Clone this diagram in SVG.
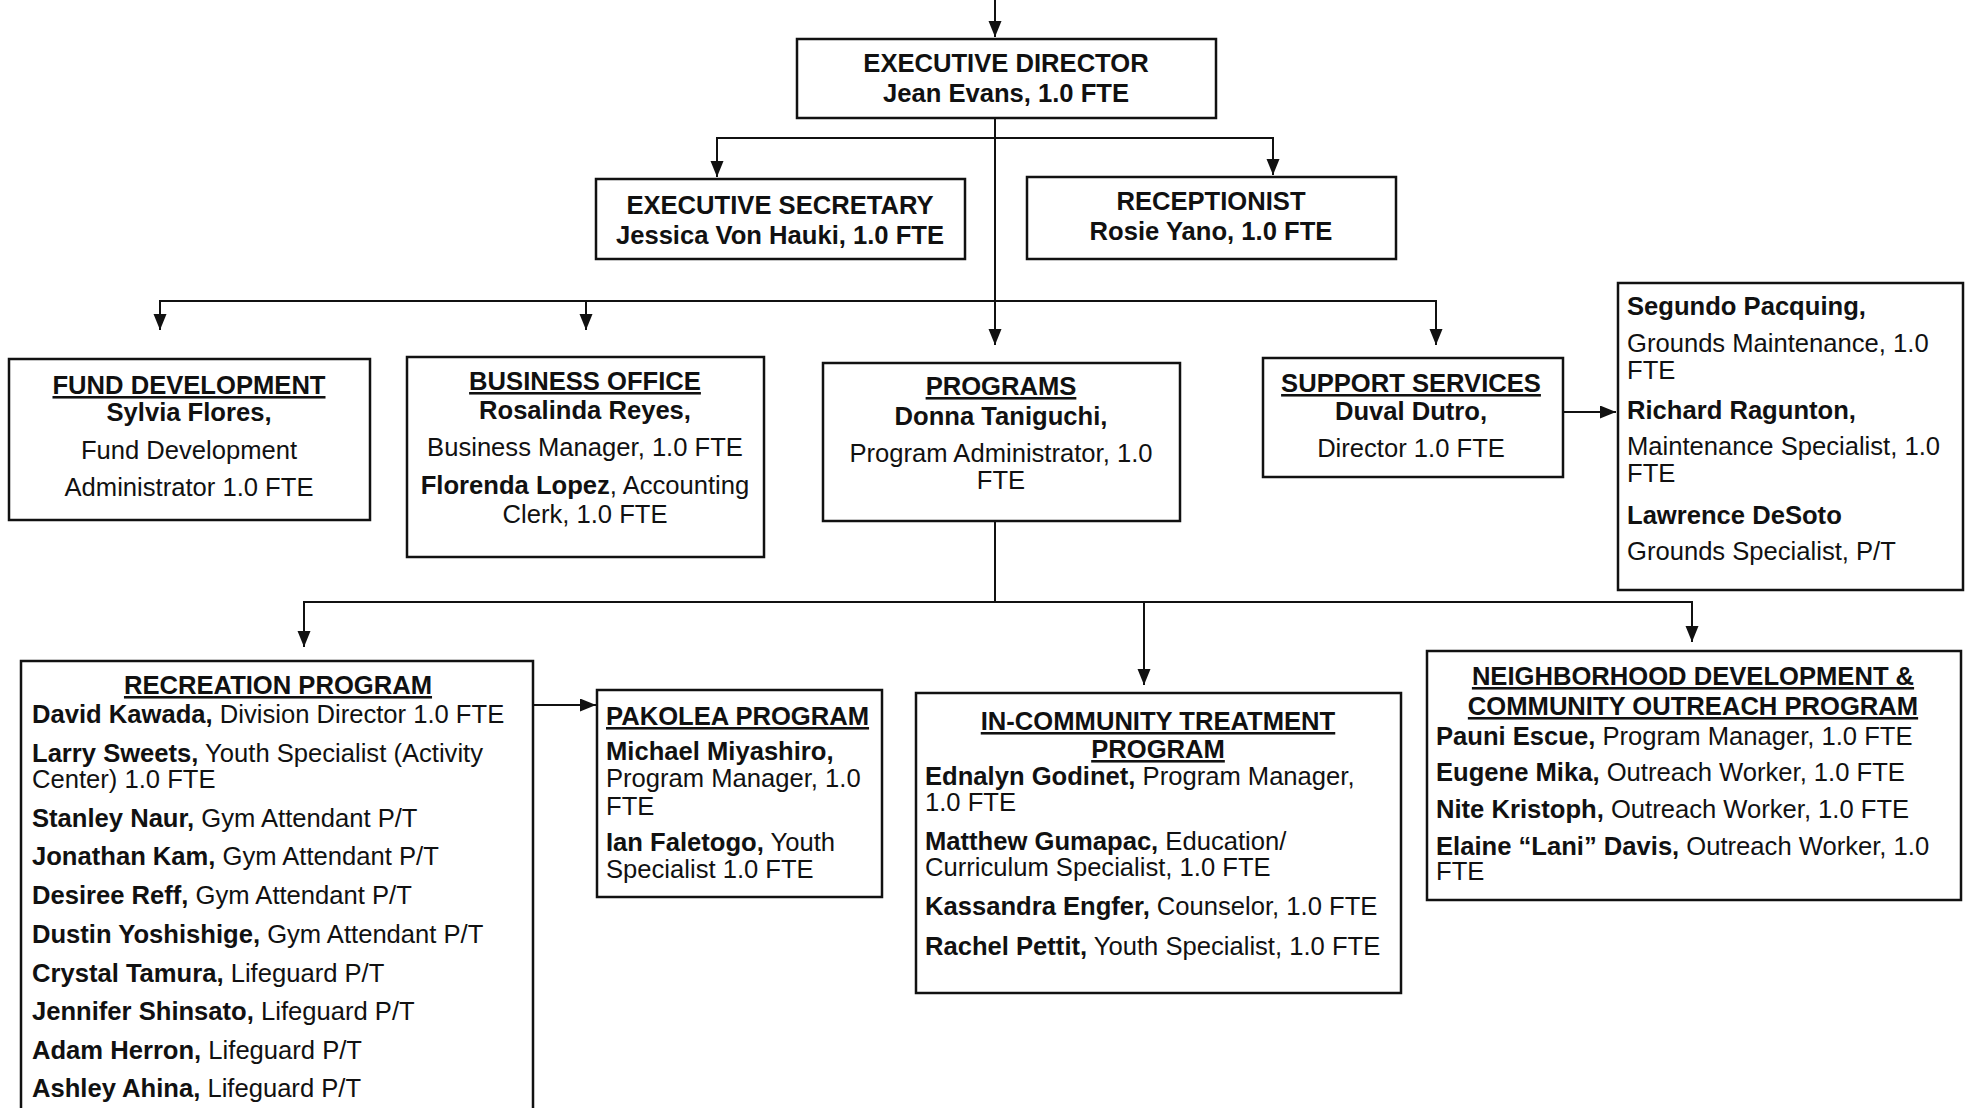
<svg xmlns="http://www.w3.org/2000/svg" width="1969" height="1108" viewBox="0 0 1969 1108">
<style>
.box{fill:#fff;stroke:#111;stroke-width:2.5}
text{font-family:"Liberation Sans",Arial,Helvetica,sans-serif;font-size:25.6px;fill:#111}
.b{font-weight:bold}
.c{text-anchor:middle}
.u{text-decoration:underline}
.con path{fill:none;stroke:#111;stroke-width:2;marker-end:url(#arr)}
</style>
<defs>
<marker id="arr" markerUnits="userSpaceOnUse" markerWidth="17" markerHeight="14" refX="16" refY="6.5" orient="auto">
<path d="M0,0 L16,6.5 L0,13 z" fill="#111"/>
</marker>
</defs>
<rect width="1969" height="1108" fill="#fff"/>

<g class="con">
<path d="M995,0 V37"/>
<path d="M995,138 H717 V177"/>
<path d="M995,138 H1273 V175"/>
<path d="M995,118 V345"/>
<path d="M995,301 H160 V330"/>
<path d="M586,301 V330"/>
<path d="M995,301 H1436 V345"/>
<path d="M1563,412 H1616"/>
<path d="M995,521 V602 H304 V647"/>
<path d="M995,602 H1692 V642"/>
<path d="M1144,602 V685"/>
<path d="M533,705 H596"/>
</g>

<g id="executive-director">
<rect class="box" x="797" y="39" width="419" height="79"/>
<text class="b c" x="1006" y="72">EXECUTIVE DIRECTOR</text>
<text class="b c" x="1006" y="102">Jean Evans, 1.0 FTE</text>
</g>

<g id="executive-secretary">
<rect class="box" x="596" y="179" width="369" height="80"/>
<text class="b c" x="780" y="214">EXECUTIVE SECRETARY</text>
<text class="b c" x="780" y="244">Jessica Von Hauki, 1.0 FTE</text>
</g>

<g id="receptionist">
<rect class="box" x="1027" y="177" width="369" height="82"/>
<text class="b c" x="1211" y="210">RECEPTIONIST</text>
<text class="b c" x="1211" y="240">Rosie Yano, 1.0 FTE</text>
</g>

<g id="fund-development">
<rect class="box" x="9" y="359" width="361" height="161"/>
<text class="b c u" x="189" y="394">FUND DEVELOPMENT</text>
<text class="b c" x="189" y="421">Sylvia Flores,</text>
<text class="c" x="189" y="459">Fund Development</text>
<text class="c" x="189" y="496">Administrator 1.0 FTE</text>
</g>

<g id="business-office">
<rect class="box" x="407" y="357" width="357" height="200"/>
<text class="b c u" x="585" y="390">BUSINESS OFFICE</text>
<text class="b c" x="585" y="419">Rosalinda Reyes,</text>
<text class="c" x="585" y="456">Business Manager, 1.0 FTE</text>
<text class="c" x="585" y="494"><tspan class="b">Florenda Lopez</tspan>, Accounting</text>
<text class="c" x="585" y="523">Clerk, 1.0 FTE</text>
</g>

<g id="programs">
<rect class="box" x="823" y="363" width="357" height="158"/>
<text class="b c u" x="1001" y="395">PROGRAMS</text>
<text class="b c" x="1001" y="425">Donna Taniguchi,</text>
<text class="c" x="1001" y="462">Program Administrator, 1.0</text>
<text class="c" x="1001" y="489">FTE</text>
</g>

<g id="support-services">
<rect class="box" x="1263" y="358" width="300" height="119"/>
<text class="b c u" x="1411" y="392">SUPPORT SERVICES</text>
<text class="b c" x="1411" y="420">Duval Dutro,</text>
<text class="c" x="1411" y="457">Director 1.0 FTE</text>
</g>

<g id="support-staff">
<rect class="box" x="1618" y="283" width="345" height="307"/>
<text class="b" x="1627" y="315">Segundo Pacquing,</text>
<text x="1627" y="352">Grounds Maintenance, 1.0</text>
<text x="1627" y="379">FTE</text>
<text class="b" x="1627" y="419">Richard Ragunton,</text>
<text x="1627" y="455">Maintenance Specialist, 1.0</text>
<text x="1627" y="482">FTE</text>
<text class="b" x="1627" y="524">Lawrence DeSoto</text>
<text x="1627" y="560">Grounds Specialist, P/T</text>
</g>

<g id="recreation-program">
<rect class="box" x="21" y="661" width="512" height="470"/>
<text class="b c u" x="278" y="694">RECREATION PROGRAM</text>
<text x="32" y="723"><tspan class="b">David Kawada,</tspan> Division Director 1.0 FTE</text>
<text x="32" y="762"><tspan class="b">Larry Sweets,</tspan> Youth Specialist (Activity</text>
<text x="32" y="788">Center) 1.0 FTE</text>
<text x="32" y="827"><tspan class="b">Stanley Naur,</tspan> Gym Attendant P/T</text>
<text x="32" y="865"><tspan class="b">Jonathan Kam,</tspan> Gym Attendant P/T</text>
<text x="32" y="904"><tspan class="b">Desiree Reff,</tspan> Gym Attendant P/T</text>
<text x="32" y="943"><tspan class="b">Dustin Yoshishige,</tspan> Gym Attendant P/T</text>
<text x="32" y="982"><tspan class="b">Crystal Tamura,</tspan> Lifeguard P/T</text>
<text x="32" y="1020"><tspan class="b">Jennifer Shinsato,</tspan> Lifeguard P/T</text>
<text x="32" y="1059"><tspan class="b">Adam Herron,</tspan> Lifeguard P/T</text>
<text x="32" y="1097"><tspan class="b">Ashley Ahina,</tspan> Lifeguard P/T</text>
</g>

<g id="pakolea-program">
<rect class="box" x="597" y="690" width="285" height="207"/>
<text class="b u" x="606" y="725">PAKOLEA PROGRAM</text>
<text class="b" x="606" y="760">Michael Miyashiro,</text>
<text x="606" y="787">Program Manager, 1.0</text>
<text x="606" y="815">FTE</text>
<text x="606" y="851"><tspan class="b">Ian Faletogo,</tspan> Youth</text>
<text x="606" y="878">Specialist 1.0 FTE</text>
</g>

<g id="in-community-treatment-program">
<rect class="box" x="916" y="693" width="485" height="300"/>
<text class="b c u" x="1158" y="730">IN-COMMUNITY TREATMENT</text>
<text class="b c u" x="1158" y="758">PROGRAM</text>
<text x="925" y="785"><tspan class="b">Ednalyn Godinet,</tspan> Program Manager,</text>
<text x="925" y="811">1.0 FTE</text>
<text x="925" y="850"><tspan class="b">Matthew Gumapac,</tspan> Education/</text>
<text x="925" y="876">Curriculum Specialist, 1.0 FTE</text>
<text x="925" y="915"><tspan class="b">Kassandra Engfer,</tspan> Counselor, 1.0 FTE</text>
<text x="925" y="955"><tspan class="b">Rachel Pettit,</tspan> Youth Specialist, 1.0 FTE</text>
</g>

<g id="neighborhood-development-program">
<rect class="box" x="1427" y="651" width="534" height="249"/>
<text class="b c u" x="1693" y="685">NEIGHBORHOOD DEVELOPMENT &amp;</text>
<text class="b c u" x="1693" y="715">COMMUNITY OUTREACH PROGRAM</text>
<text x="1436" y="745"><tspan class="b">Pauni Escue,</tspan> Program Manager, 1.0 FTE</text>
<text x="1436" y="781"><tspan class="b">Eugene Mika,</tspan> Outreach Worker, 1.0 FTE</text>
<text x="1436" y="818"><tspan class="b">Nite Kristoph,</tspan> Outreach Worker, 1.0 FTE</text>
<text x="1436" y="855"><tspan class="b">Elaine “Lani” Davis,</tspan> Outreach Worker, 1.0</text>
<text x="1436" y="880">FTE</text>
</g>
</svg>
